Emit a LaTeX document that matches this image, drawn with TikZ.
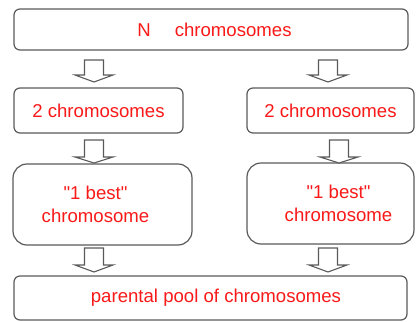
\documentclass[tikz,border=0pt]{standalone}
\usepackage{fontspec}
\setmainfont{Liberation Sans}[Ligatures=TeXOff]
\definecolor{txtred}{RGB}{250,25,25}
\definecolor{boxgray}{RGB}{90,90,90}
\tikzset{
  box/.style={draw=boxgray, line width=1.2pt, fill=white, align=center, text=txtred,
    font=\fontsize{18.6}{23}\selectfont, inner sep=0pt, outer sep=0pt},
  thinbox/.style={box, rounded corners=6pt},
  tallbox/.style={box, rounded corners=14pt},
  blockarr/.style={draw=boxgray, line width=1.1pt, fill=white, line join=miter}
}
\newcommand{\blockarrow}[4]{% cx, top, headbase, tip
  \draw[blockarr] (#1-9.5,#2) -- (#1+9.5,#2) -- (#1+9.5,#3) -- (#1+19,#3) -- (#1,#4)
    -- (#1-19,#3) -- (#1-9.5,#3) -- cycle;}
\begin{document}
\begin{tikzpicture}[x=1pt,y=-1pt]
\useasboundingbox (0,0) rectangle (416,322);
\node[thinbox, minimum width=394pt, minimum height=41pt] (top) at (211,29.5)
  {\hspace*{7pt}N\hspace{24pt}chromosomes};
\node[thinbox, minimum width=169pt, minimum height=45pt] (l2) at (98.5,110.5) {2 chromosomes};
\node[thinbox, minimum width=167pt, minimum height=45pt] (r2) at (330.5,110.5) {2 chromosomes};
\node[tallbox, minimum width=179pt, minimum height=81pt] (l1) at (102.5,204.5)
  {\hspace*{-14pt}"1 best"\\\hspace*{-14pt}chromosome};
\node[tallbox, minimum width=167pt, minimum height=81pt] (r1) at (330.5,203.5)
  {\hspace*{16pt}"1 best"\\\hspace*{16pt}chromosome};
\node[thinbox, minimum width=393pt, minimum height=44pt] (pool) at (210.5,298)
  {\hspace*{11pt}parental pool of chromosomes};
\blockarrow{94}{60}{75}{82}
\blockarrow{328}{60}{75}{82}
\blockarrow{94}{140}{157}{163}
\blockarrow{339}{140}{157}{163}
\blockarrow{94}{248}{265}{272}
\blockarrow{328}{248}{265}{272}
\end{tikzpicture}
\end{document}
